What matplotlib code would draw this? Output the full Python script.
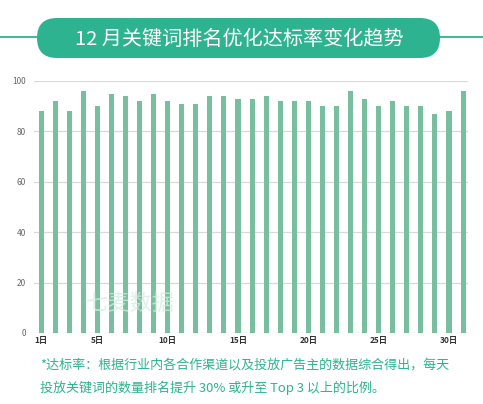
import matplotlib.pyplot as plt
from matplotlib.patches import FancyBboxPatch

plt.rcParams['font.family'] = ['Noto Sans CJK SC', 'DejaVu Sans']

days = list(range(1, 32))
rate = [88, 92, 88, 96, 90, 95, 94, 92, 95, 92, 91, 91, 94, 94, 93, 93,
        94, 92, 92, 92, 90, 90, 96, 93, 90, 92, 90, 90, 87, 88, 96]
tick_days = [1, 5, 10, 15, 20, 25, 30]
tick_labels = ['1日', '5日', '10日', '15日', '20日', '25日', '30日']
y_ticks = [0, 20, 40, 60, 80, 100]

title = '12 月关键词排名优化达标率变化趋势'
note1 = '*达标率：根据行业内各合作渠道以及投放广告主的数据综合得出，每天'
note2 = '投放关键词的数量排名提升 30% 或升至 Top 3 以上的比例。'

green = '#2DB38F'
bar_green = '#78BF9F'

fig = plt.figure(figsize=(4.83, 4.04), dpi=100)

# pixel overlay for the banner
bg = fig.add_axes([0, 0, 1, 1], zorder=5)
bg.set_xlim(0, 483)
bg.set_ylim(404, 0)
bg.axis('off')
bg.plot([0, 483], [37, 37], color=green, lw=1.3)
bg.add_patch(FancyBboxPatch((37, 18), 403, 40,
                            boxstyle='round,pad=0,rounding_size=20',
                            facecolor=green, edgecolor='none'))
bg.text(239, 39, title, color='white', fontsize=14.5, ha='center', va='center')

ax = fig.add_axes([34 / 483, 1 - 333 / 404, 434 / 483, 252 / 404])
ax.bar(days, rate, width=0.36, color=bar_green, zorder=3)
ax.set_xlim(0.5, 31.35)
ax.set_ylim(0, 100)
ax.set_yticks(y_ticks)
ax.set_xticks(tick_days)
ax.set_xticklabels(tick_labels, fontsize=6, fontweight='bold', color='#333333')
ax.tick_params(axis='y', labelsize=6, colors='#666666', length=0, pad=6)
ax.tick_params(axis='x', length=0, pad=2)
ax.grid(axis='y', color='#D9D9D9', lw=0.9, zorder=0)
for s in ax.spines.values():
    s.set_visible(False)

# watermark
bg.text(130, 303, '七麦数据', color='#D3ECE1', fontsize=16,
        ha='center', va='center', alpha=0.75)

bg.text(40, 366, note1, color=green, fontsize=9.4, va='center')
bg.text(40, 388, note2, color=green, fontsize=9.4, va='center')

fig.savefig('out.png', dpi=100)
